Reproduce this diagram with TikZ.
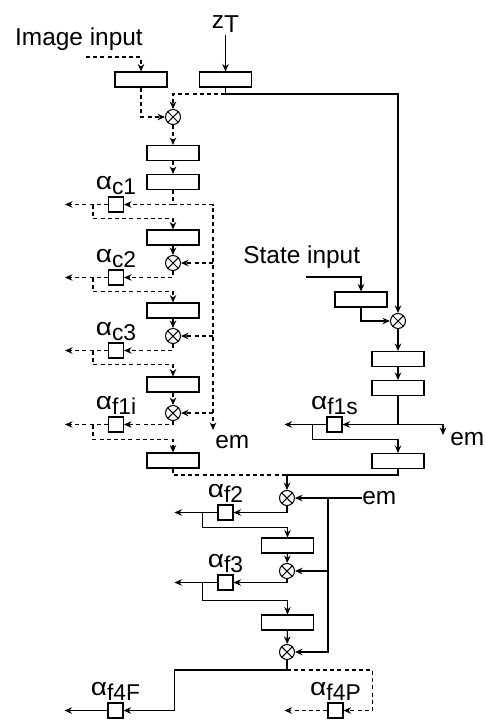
\documentclass[tikz,border=0pt]{standalone}
\usepackage{fontspec}
\setmainfont{Liberation Sans}
\usetikzlibrary{arrows.meta,positioning}
\tikzset{
  every picture/.style={font=\fontsize{13.9}{16}\selectfont},
  blk/.style={draw, line width=0.6pt, minimum width=1.04cm, minimum height=0.3cm, inner sep=0pt},
  gate/.style={draw, line width=0.6pt, minimum size=0.3cm, inner sep=0pt},
  mul/.style={circle, draw, line width=0.6pt, minimum size=0.3cm, inner sep=0pt,
    path picture={\draw[line width=0.6pt]
      (path picture bounding box.north west) -- (path picture bounding box.south east)
      (path picture bounding box.north east) -- (path picture bounding box.south west);}},
  txt/.style={inner sep=0pt},
  lbl/.style={inner sep=1pt},
  wire/.style={line width=0.6pt},
  dwire/.style={wire, dash pattern=on 2.3pt off 1.8pt},
  sline/.style={wire, -{Stealth[length=1.5mm,width=1.3mm]}},
  dline/.style={sline, dash pattern=on 2.3pt off 1.8pt}
}
\newcommand{\alab}[1]{\scalebox{1.15}[1]{α}{\fontsize{13}{15}\selectfont\raisebox{-0.22em}{#1}}}

\begin{document}
\begin{tikzpicture}[x=0.02cm,y=-0.02cm]
  \useasboundingbox (0,0) rectangle (485,724);

  % image branch
  \node[txt, anchor=base] (imgin) at (79,45) {Image input};
  \coordinate (ifeed) at (86,57);
  \node[blk] (bimg) at (141,79.5) {};
  \node[blk] (bz) at (225.5,79.5) {};
  \node[txt, anchor=south, inner sep=1pt] (zT) at (225.5,35) {z\raisebox{-0.2em}{T}};
  \coordinate (jz) at (225.5,94);
  \node[mul] (m0) at (173,117) {};
  \node[blk] (bc1) at (173,153) {};
  \node[blk] (bc2) at (173,182) {};
  \node[gate] (ac1) at (116,204.5) {};
  \node[lbl, above=0pt of ac1] (lc1) {\alab{c1}};
  \node[txt, anchor=base west] (em1) at (215,448) {em};
  \coordinate (eend) at (213,430);

  \draw[sline] (zT.south) -- (bz.north);
  \draw[dline] (ifeed) -| (bimg.north);
  \draw[wire] (bz.south) -- (jz);
  \draw[dline] (jz) -| (m0.north);
  \draw[dline] (bimg.south) |- (m0.west);
  \draw[dline] (m0) -- (bc1);
  \draw[dline] (bc1) -- (bc2);
  \draw[dline] (bc2.south) |- (ac1.east);
  \draw[dline] (bc2.south |- ac1) -| (eend);
  \draw[dline] (ac1.west) -- ++(-43,0);

  \foreach \prev/\lab/\yb/\ym/\ys in {c1/c2/237.5/263/277.5, c2/c3/310.5/336/350.5, c3/f1i/384.5/413/424.5}{
    \node[blk] (b\lab) at (173,\yb) {};
    \node[mul] (m\lab) at (173,\ym) {};
    \node[gate] (a\lab) at (116,\ys) {};
    \node[lbl, above=0pt of a\lab] (l\lab) {\alab{\lab}};
    \draw[dline] (a\prev.west) ++(-15,0) -- ++(0,14) -| (b\lab.north);
    \draw[dline] (b\lab) -- (m\lab);
    \draw[dline] (eend |- m\lab) -- (m\lab.east);
    \draw[dline] (m\lab.south) |- (a\lab.east);
    \draw[dline] (a\lab.west) -- ++(-43,0);
  }
  \node[blk] (bout) at (173,460.5) {};
  \draw[dline] (af1i.west) ++(-15,0) -- ++(0,15) -| (bout.north);

  % state branch
  \node[txt, anchor=base west] (stin) at (243,263) {State input};
  \coordinate (sfeed) at (306,277);
  \node[blk] (bs) at (361,299.5) {};
  \node[mul] (ms) at (398,321) {};
  \node[blk] (bs1) at (398,359) {};
  \node[blk] (bs2) at (398,388) {};
  \node[gate] (af1s) at (334.5,424.5) {};
  \node[lbl, above=0pt of af1s] (lf1s) {\alab{f1s}};
  \node[txt, anchor=base west] (em2) at (450,445) {em};
  \coordinate (eend2) at (443,435);
  \node[blk] (bs3) at (398,461) {};

  \draw[sline] (jz) -| (ms.north);
  \draw[sline] (sfeed) -| (bs.north);
  \draw[sline] (bs.south) |- (ms.west);
  \draw[sline] (ms) -- (bs1);
  \draw[sline] (bs1) -- (bs2);
  \draw[sline] (bs2.south) |- (af1s.east);
  \draw[sline] (bs2.south |- af1s) -| (eend2);
  \draw[sline] (af1s.west) -- ++(-42,0);
  \draw[sline] (af1s.west) ++(-14,0) -- ++(0,15) -| (bs3.north);

  % fusion
  \coordinate (jm) at (287,475);
  \node[mul] (mf2) at (287,498) {};
  \node[txt, anchor=west] (em3) at (362,498) {em};
  \coordinate (jv) at (328,498);
  \node[mul] (mf3) at (287,571) {};
  \node[mul] (mf4) at (287,652) {};
  \draw[sline] (bs3.south) |- (jm) -- (mf2.north);
  \draw[dwire] (bout.south) |- (jm);
  \draw[sline] (em3.west) -- (mf2.east);
  \draw[sline] (jv) |- (mf4.east);
  \draw[sline] (jv |- mf3) -- (mf3.east);

  \foreach \lab/\ys/\yb/\dy in {f2/512.5/545.5/15, f3/582.5/622.5/18}{
    \node[gate] (a\lab) at (225.5,\ys) {};
    \node[lbl, above=0pt of a\lab] (l\lab) {\alab{\lab}};
    \node[blk] (b\lab) at (287.5,\yb) {};
    \draw[sline] (m\lab.south) |- (a\lab.east);
    \draw[sline] (a\lab.west) -- ++(-43,0);
    \draw[sline] (a\lab.west) ++(-15,0) -- ++(0,\dy) -| (b\lab.north);
  }
  \draw[sline] (bf2) -- (mf3);
  \draw[sline] (bf3) -- (mf4);

  % outputs
  \coordinate (jo) at (287,670);
  \node[gate] (af4F) at (115.5,710.5) {};
  \node[lbl, above=0pt of af4F] (lf4F) {\alab{f4F}};
  \node[gate] (af4P) at (335.5,710.5) {};
  \node[lbl, above=0pt of af4P] (lf4P) {\alab{f4P}};
  \draw[wire] (mf4.south) -- (jo);
  \draw[sline] (jo) -| ([xshift=1.02cm]af4F.east) -- (af4F.east);
  \draw[dline] (jo) -| ([xshift=0.58cm]af4P.east) -- (af4P.east);
  \draw[sline] (af4F.west) -- ++(-43,0);
  \draw[dline] (af4P.west) -- ++(-43,0);
\end{tikzpicture}
\end{document}
